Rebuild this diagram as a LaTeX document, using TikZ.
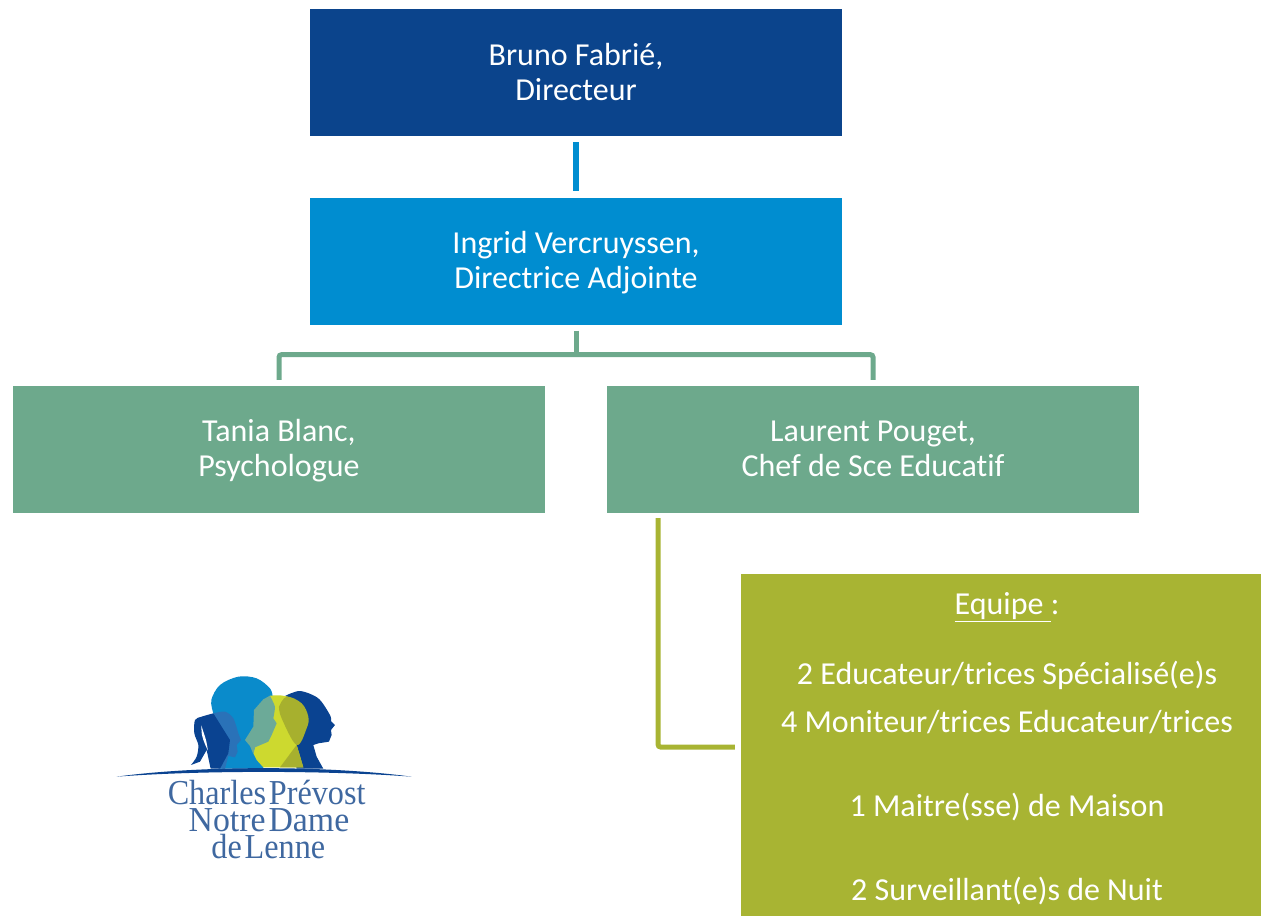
\documentclass[tikz,border=0pt]{standalone}
\usepackage{fontspec}
\setmainfont[Ligatures=NoCommon]{Carlito}
\newfontfamily\logofont[WordSpace=0.35]{Liberation Serif}
\definecolor{navyb}{HTML}{0B448C}
\definecolor{skyb}{HTML}{008DD0}
\definecolor{sage}{HTML}{6DA98C}
\definecolor{olive}{HTML}{A8B433}
\definecolor{logonavy}{HTML}{0A4391}
\definecolor{logosky}{HTML}{0A8BCB}
\definecolor{logomid}{HTML}{2A72B8}
\definecolor{logoteal}{HTML}{6CAA98}
\definecolor{logolime}{HTML}{CDD92F}
\definecolor{logoolive}{HTML}{A7B02E}
\definecolor{logotext}{HTML}{3F68A0}
\newcommand\orgstrut{\rule[-8.5pt]{0pt}{35pt}}
\newcommand\orgstrutlow{\rule[-7.5pt]{0pt}{35pt}}
\tikzset{
  orgbox/.style={rectangle,inner sep=0pt,minimum width=532.5pt,minimum height=127pt,text=white,align=center,
    font=\fontsize{32}{35}\selectfont},
  teamline/.style={text=white,anchor=base,inner sep=0pt,font=\fontsize{32}{35}\selectfont},
  link/.style={line width=5pt,rounded corners=2.5pt},
  logoline/.style={anchor=base,inner sep=0pt,text=logotext,xscale=0.92,font=\logofont\fontsize{35}{35}\selectfont},
}
\begin{document}
\begin{tikzpicture}[x=1pt,y=-1pt]
\useasboundingbox (0,0) rectangle (1261,916);
\node[orgbox,fill=navyb] (dir) at (576,72.5) {\orgstrutlow Bruno Fabrié,\\\orgstrutlow Directeur};
\node[orgbox,fill=skyb] (adj) at (576,261) {\orgstrutlow Ingrid Vercruyssen,\\\orgstrutlow Directrice Adjointe};
\node[orgbox,fill=sage] (psy) at (279,449.5) {\orgstrut Tania Blanc,\\\orgstrut Psychologue};
\node[orgbox,fill=sage] (chef) at (873,449.5) {\orgstrut Laurent Pouget,\\\orgstrut Chef de Sce Educatif};
\node[rectangle,fill=olive,inner sep=0pt,minimum width=520pt,minimum height=342pt] (team) at (1001,745) {};
\node[teamline] (t0) at (1007,614.5) {\underline{Equipe\ }:};
\node[teamline] (t1) at (1007,684) {2 Educateur/trices Spécialisé(e)s};
\node[teamline] (t2) at (1007,732) {4 Moniteur/trices Educateur/trices};
\node[teamline] (t3) at (1007,816.5) {1 Maitre(sse) de Maison};
\node[teamline] (t4) at (1007,900) {2 Surveillant(e)s de Nuit};
% connectors
\draw[line width=5.5pt,skyb] ([yshift=-6pt]dir.south) -- ([yshift=6pt]adj.north);
\coordinate (split) at ([yshift=-30pt]adj.south);
\draw[link,sage] ([yshift=-6pt]adj.south) -- (split);
\draw[link,sage] ([yshift=6pt]psy.north) |- (split) -| ([yshift=6pt]chef.north);
\draw[link,olive] ([xshift=51.5pt,yshift=-5pt]chef.south west) |- ([xshift=-6pt]team.west |- 0,747);
% logo
\begin{scope}[shift={(100,660)},x=0.3333pt,y=-0.3333pt]
  % adult head (sky)
  \fill[logosky] plot[smooth,tension=0.55] coordinates {(340,160) (334,120) (360,75) (415,50) (470,55) (510,85) (518,110)} -- (500,200) -- (490,326) -- (360,326) -- cycle;
  % navy right head
  \fill[logonavy] plot[smooth,tension=0.5] coordinates {(555,108) (600,93) (655,115) (690,165) (693,183)} -- (705,195) -- (693,210) -- (695,225) -- (687,245) -- (655,250) -- (640,255) -- (650,290) -- (670,326) -- (590,326) -- (560,200) -- cycle;
  % girl: head overlap
  \fill[logomid] plot[smooth,tension=0.5] coordinates {(340,160) (375,155) (400,175) (415,220)} -- (423,240) -- (410,255) -- (413,275) -- (405,292) -- (385,288) -- (375,326) -- (355,326) -- (385,270) -- cycle;
  % girl: ponytail and shoulder
  \fill[logonavy] plot[smooth,tension=0.5] coordinates {(340,160) (305,170) (285,180) (283,220) (295,255) (290,290) (273,315)}
     -- (300,305) -- (320,270) -- (332,326) -- (360,326) -- (385,280) -- (390,240) -- cycle;
  \fill[white] plot[smooth,tension=0.6] coordinates {(304,196) (306,225) (314,250) (324,272)} -- plot[smooth,tension=0.6] coordinates {(324,272) (318,240) (311,218) (304,196)} -- cycle;
  % lime head
  \fill[logolime] plot[smooth,tension=0.5] coordinates {(510,107) (540,106) (565,110)} -- (590,255) -- (610,322) -- (490,322) -- (470,300) -- (460,280) -- (465,260) -- cycle;
  % teal face
  \fill[logoteal] plot[smooth,tension=0.3] coordinates {(510,107) (525,140) (520,175)} -- (530,190) -- (515,225) -- (505,245) -- (465,262) -- (460,282) -- (450,258) -- (435,240) -- (460,200) -- (462,150) -- (490,118) -- cycle;
  % olive overlap
  \fill[logoolive] plot[smooth,tension=0.6] coordinates {(537,140) (560,110) (605,130) (625,170) (620,205) (590,255) (545,175) (537,140)} -- cycle;
  \fill[logoolive] (590,255) -- (610,322) -- (540,322) -- cycle;
  % swoosh
  \fill[logonavy] (50,350) .. controls (300,316) and (680,316) .. (935,350)
     .. controls (680,331) and (300,331) .. (50,350) -- cycle;
  \node[logoline] (l1) at (500,434) {Charles Prévost};
  \node[logoline,xscale=1.05] (l2) at (507,516) {Notre Dame};
  \node[logoline] (l3) at (505,595) {de Lenne};
\end{scope}
\end{tikzpicture}
\end{document}
